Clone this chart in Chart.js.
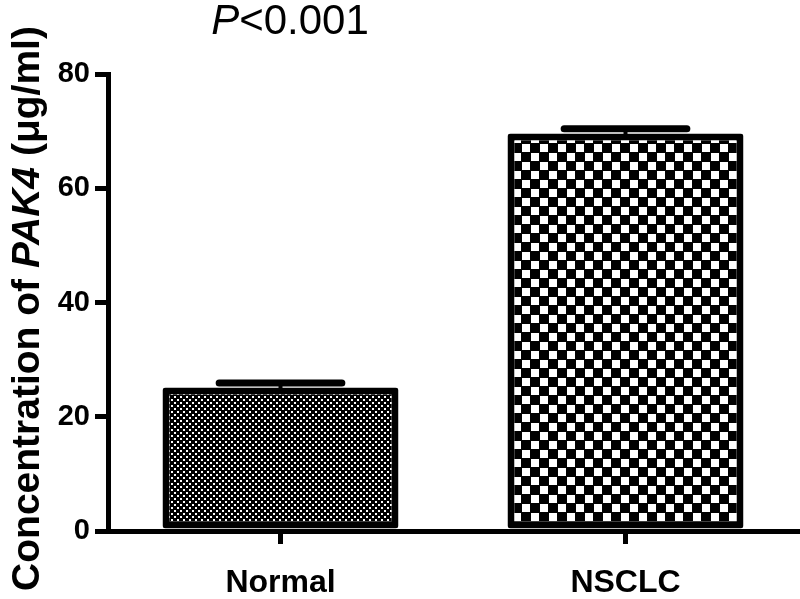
<!DOCTYPE html>
<html>
<head>
<meta charset="utf-8">
<script src="https://cdn.jsdelivr.net/npm/chart.js@4.4.0/dist/chart.umd.min.js"></script>
<style>
	html, body { margin: 0; padding: 0; background: #fff; }
</style>
</head>
<body>
<canvas id="myChart" width="800" height="599"></canvas>
<script>
	'use strict';

	var groups = ['Normal', 'NSCLC'];
	var means = [25.1, 69.6];
	var sems = [0.8, 0.8];
	var yTicks = [0, 20, 40, 60, 80];
	var pText = ['P', '<0.001'];
	var yTitle = ['Concentration of ', 'PAK4', ' (\u03bcg/ml)'];

	var FONT = '"Liberation Sans", Arial, Helvetica, sans-serif';

	// checkerboard fill, cell = square size, dot = white square inside
	function checker(cell, dot) {
		var c = document.createElement('canvas');
		c.width = c.height = cell * 2;
		var g = c.getContext('2d');
		g.fillStyle = '#000';
		g.fillRect(0, 0, cell * 2, cell * 2);
		g.fillStyle = '#fff';
		var o = Math.floor((cell - dot) / 2);
		g.fillRect(o, o, dot, dot);
		g.fillRect(cell + o, cell + o, dot, dot);
		return g.createPattern(c, 'repeat');
	}

	var errorBars = {
		id : 'errorBars',
		afterDatasetsDraw : function(chart) {
			var ctx = chart.ctx;
			var meta = chart.getDatasetMeta(0);
			var y = chart.scales.y;
			ctx.save();
			ctx.strokeStyle = '#000';
			ctx.lineCap = 'round';
			meta.data.forEach(function(bar, i) {
				var top = y.getPixelForValue(means[i] + sems[i]);
				var half = bar.width * 0.26;
				ctx.lineWidth = 4;
				ctx.beginPath();
				ctx.moveTo(bar.x, bar.y + 4);
				ctx.lineTo(bar.x, top);
				ctx.stroke();
				ctx.lineWidth = 7;
				ctx.beginPath();
				ctx.moveTo(bar.x - half, top);
				ctx.lineTo(bar.x + half, top);
				ctx.stroke();
			});
			ctx.restore();
		}
	};

	function drawParts(ctx, parts, fonts, x, y) {
		var total = 0, widths = [];
		parts.forEach(function(p, i) {
			ctx.font = fonts[i];
			widths.push(ctx.measureText(p).width);
			total += widths[i];
		});
		var cx = x - total / 2;
		parts.forEach(function(p, i) {
			ctx.font = fonts[i];
			ctx.fillText(p, cx, y);
			cx += widths[i];
		});
	}

	var texts = {
		id : 'texts',
		afterDraw : function(chart) {
			var ctx = chart.ctx;
			var a = chart.chartArea;
			ctx.save();
			ctx.fillStyle = '#000';
			ctx.textAlign = 'left';
			ctx.textBaseline = 'alphabetic';
			drawParts(ctx, pText, ['italic 42px ' + FONT, '42px ' + FONT], 290, 34);
			ctx.translate(39, (a.top + a.bottom) / 2 + 6);
			ctx.rotate(-Math.PI / 2);
			drawParts(ctx, yTitle, ['bold 39px ' + FONT, 'italic bold 39px ' + FONT, 'bold 39px ' + FONT], 0, 0);
			ctx.restore();
		}
	};

	var ctx = document.getElementById('myChart');

	var myChart = new Chart(ctx, {
		type : 'bar',
		data : {
			labels : groups,
			datasets : [{
				data : means,
				backgroundColor : [checker(3, 2), checker(9, 8)],
				borderColor : '#000',
				borderWidth : 7,
				borderRadius : 3,
				borderSkipped : false,
				barPercentage : 0.684,
				categoryPercentage : 1
			}]
		},
		options : {
			responsive : false,
			animation : false,
			devicePixelRatio : 1,
			layout : {
				padding : { top : 74, right : 2, left : 0, bottom : 0 }
			},
			plugins : {
				legend : { display : false },
				tooltip : { enabled : false }
			},
			scales : {
				x : {
					afterFit : function(s) { s.height = 68; },
					grid : { offset : false, drawOnChartArea : false, tickLength : 13, lineWidth : 5, color : '#000' },
					border : { display : true, width : 5, color : '#000' },
					ticks : { color : '#000', padding : 20, font : { family : FONT, size : 32, weight : 'bold' } }
				},
				y : {
					min : 0,
					max : 80,
					afterFit : function(s) { s.width = 108; },
					afterBuildTicks : function(s) {
						s.ticks = yTicks.map(function(v) { return { value : v }; });
					},
					grid : { drawOnChartArea : false, tickLength : 13, lineWidth : 5, color : '#000' },
					border : { display : true, width : 5, color : '#000' },
					ticks : { color : '#000', padding : 5, font : { family : FONT, size : 29, weight : 'bold' } }
				}
			}
		},
		plugins : [errorBars, texts]
	});
</script>
</body>
</html>
